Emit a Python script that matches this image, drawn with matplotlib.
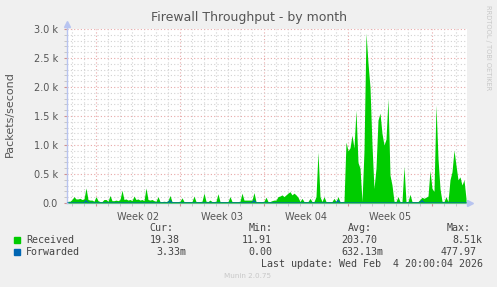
from datetime import datetime, timedelta

import matplotlib

matplotlib.use("Agg")
import matplotlib.dates as mdates
import matplotlib.pyplot as plt
import matplotlib.ticker as mticker
import numpy as np


TITLE = "Firewall Throughput - by month"
Y_LABEL = "Packets/second"
SIDE_TEXT = "RRDTOOL / TOBI OETIKER"
FOOTER = "Munin 2.0.75"
LAST_UPDATE = "Last update: Wed Feb  4 20:00:04 2026"

# 4-hour averages, starting Fri Jan 2 14:00
SERIES_START = datetime(2026, 1, 2, 14, 0)
STEP_HOURS = 4
RECEIVED = [
    30, 30, 60, 110, 70, 70, 80, 60, 70, 260,
    60, 50, 50, 30, 110, 40, 25, 25, 60, 60,
    30, 130, 40, 40, 50, 40, 60, 220, 60, 70,
    50, 60, 40, 120, 60, 70, 50, 60, 40, 260,
    60, 50, 60, 40, 30, 110, 25, 25, 30, 25,
    40, 130, 25, 25, 25, 25, 30, 90, 25, 25,
    25, 25, 25, 120, 25, 25, 25, 30, 170, 30,
    25, 50, 25, 25, 30, 160, 25, 25, 25, 25,
    25, 110, 25, 25, 25, 25, 30, 170, 50, 50,
    50, 50, 50, 180, 25, 25, 25, 25, 30, 100,
    25, 25, 40, 50, 50, 110, 120, 140, 110, 140,
    170, 195, 140, 170, 140, 100, 25, 80, 25, 25,
    25, 80, 25, 25, 110, 880, 110, 25, 110, 25,
    25, 25, 25, 80, 25, 110, 25, 25, 30, 1050,
    900, 950, 1170, 950, 1600, 700, 600, 30, 900, 2930,
    2410, 2000, 1000, 250, 600, 1430, 1550, 1200, 1000, 1100,
    1800, 480, 310, 30, 25, 110, 25, 25, 630, 25,
    25, 150, 25, 25, 25, 25, 60, 100, 80, 100,
    120, 560, 250, 200, 1690, 770, 250, 30, 25, 110,
    25, 400, 540, 910, 650, 400, 450, 310, 400, 80,
]
FORWARDED = [
    0, 0, 0, 0, 0, 0, 0, 0, 0, 40,
    0, 0, 0, 0, 0, 0, 0, 0, 0, 0,
    0, 0, 0, 0, 0, 0, 0, 0, 0, 0,
    0, 0, 0, 0, 0, 0, 0, 0, 0, 0,
    0, 0, 0, 0, 0, 0, 0, 0, 0, 0,
    0, 40, 0, 0, 0, 0, 0, 0, 0, 0,
    0, 0, 0, 0, 0, 0, 0, 0, 0, 0,
    0, 0, 0, 0, 0, 0, 0, 0, 0, 0,
    0, 0, 0, 0, 0, 0, 0, 0, 0, 0,
    0, 0, 0, 40, 0, 0, 0, 0, 0, 0,
    0, 0, 0, 0, 0, 0, 0, 0, 0, 0,
    0, 0, 0, 0, 0, 0, 0, 0, 0, 0,
    0, 0, 0, 0, 0, 0, 0, 0, 0, 0,
    0, 0, 0, 0, 0, 40, 0, 0, 0, 0,
    0, 0, 0, 0, 0, 0, 0, 0, 0, 0,
    0, 0, 0, 0, 0, 0, 0, 0, 0, 0,
    0, 0, 0, 0, 0, 0, 0, 0, 0, 0,
    0, 0, 0, 0, 0, 0, 0, 40, 0, 0,
    0, 0, 0, 0, 0, 0, 0, 0, 0, 0,
    0, 0, 0, 0, 0, 0, 0, 0, 0, 0,
]

X_START = datetime(2026, 1, 2, 14, 0)
X_END = datetime(2026, 2, 4, 22, 0)
WEEK_STARTS = [datetime(2026, 1, 5), datetime(2026, 1, 12), datetime(2026, 1, 19),
               datetime(2026, 1, 26), datetime(2026, 2, 2)]
WEEK_LABELS = ["Week 02", "Week 03", "Week 04", "Week 05"]

Y_TICKS = [0, 500, 1000, 1500, 2000, 2500, 3000]
Y_TICK_LABELS = ["0.0", "0.5 k", "1.0 k", "1.5 k", "2.0 k", "2.5 k", "3.0 k"]

LEGEND_NAMES = ["Received", "Forwarded"]
LEGEND_COLORS = ["#00CC00", "#0066B3"]
CUR_VALUES = ["19.38", "3.33m"]
MIN_VALUES = ["11.91", "0.00"]
AVG_VALUES = ["203.70", "632.13m"]
MAX_VALUES = ["8.51k", "477.97"]

BG = "#F0F0F0"
TEXT = "#555555"
MAJOR_GRID = "#E8A8A8"
MINOR_GRID = "#D2D2D2"
AXIS = "#B8C4F0"
MONO = "DejaVu Sans Mono"

W, H = 497, 287


def px_x(x):
    return x / W


def px_y(y):
    return 1 - y / H


times = [SERIES_START + timedelta(hours=STEP_HOURS * i + STEP_HOURS / 2) for i in range(len(RECEIVED))]
t = mdates.date2num(times)
received = np.array(RECEIVED, dtype=float)
forwarded = np.array(FORWARDED, dtype=float)

fig = plt.figure(figsize=(W / 100, H / 100), dpi=100, facecolor=BG)
ax = fig.add_axes([67 / W, 1 - 203 / H, 400 / W, 174 / H])
ax.set_facecolor("white")

ax.fill_between(t, 0, received, color=LEGEND_COLORS[0], linewidth=0, zorder=3)
ax.plot(t, forwarded, color=LEGEND_COLORS[1], linewidth=0.9, zorder=4)

ax.set_xlim(mdates.date2num(X_START), mdates.date2num(X_END))
ax.set_ylim(0, 3000)

ax.set_yticks(Y_TICKS)
ax.set_yticklabels(Y_TICK_LABELS)
ax.yaxis.set_minor_locator(mticker.MultipleLocator(100))
ax.set_xticks(mdates.date2num(WEEK_STARTS))
ax.set_xticklabels([])
ax.xaxis.set_minor_locator(mdates.DayLocator())

ax.grid(True, which="major", color=MAJOR_GRID, linestyle=(0, (1, 2)), linewidth=0.8, zorder=1)
ax.grid(True, which="minor", color=MINOR_GRID, linestyle=(0, (1, 2)), linewidth=0.8, zorder=1)
ax.set_axisbelow(True)

ax.tick_params(axis="both", which="major", length=2, width=0.8, color="#D09090",
               labelsize=7, labelcolor=TEXT, pad=4.5)
ax.tick_params(axis="both", which="minor", length=2, width=0.6, color="#C0C0C0")

for spine in ("top", "right"):
    ax.spines[spine].set_visible(False)
for spine in ("left", "bottom"):
    ax.spines[spine].set_color(AXIS)
    ax.spines[spine].set_linewidth(1)

# axis arrows
ax.plot([1.0, 1.0075], [0, 0], color=AXIS, lw=1, transform=ax.transAxes, clip_on=False)
ax.plot([1.0075], [0], marker=">", color=AXIS, markersize=4, transform=ax.transAxes, clip_on=False)
ax.plot([0, 0], [1.0, 1.029], color=AXIS, lw=1, transform=ax.transAxes, clip_on=False)
ax.plot([0], [1.029], marker="^", color=AXIS, markersize=4, transform=ax.transAxes, clip_on=False)

# week labels centred in the middle of each week
for start, label in zip(WEEK_STARTS, WEEK_LABELS):
    mid = mdates.date2num(start + timedelta(days=3.5))
    ax.text(mid, -0.05, label, transform=ax.get_xaxis_transform(),
            ha="center", va="top", fontsize=7, color=TEXT)

fig.text(px_x(249), px_y(18), TITLE, ha="center", va="center", fontsize=9, color=TEXT)
fig.text(px_x(10), px_y(114), Y_LABEL, rotation=90, ha="center", va="center",
         fontsize=8, color=TEXT)
fig.text(px_x(488), px_y(5), SIDE_TEXT, rotation=270, ha="center", va="top",
         fontsize=4.8, color="#C8C8C8")

# legend block
mono = dict(family=MONO, fontsize=7.2, color="#444444", va="center")
for x, head in zip([149.7, 248.7, 348, 446.7], ["Cur:", "Min:", "Avg:", "Max:"]):
    fig.text(px_x(x), px_y(228), head, ha="left", **mono)

rows = zip(LEGEND_NAMES, LEGEND_COLORS, CUR_VALUES, MIN_VALUES, AVG_VALUES, MAX_VALUES)
for k, (name, color, cur, vmin, avg, vmax) in enumerate(rows):
    y = px_y(240 + 12 * k)
    fig.patches.append(plt.Rectangle((px_x(14), y - 3 / H), 6 / W, 6 / H,
                                     transform=fig.transFigure, color=color))
    fig.text(px_x(26.3), y, name, ha="left", **mono)
    # values are right aligned like rrdtool's fixed-width columns
    for right, val in zip([186, 278, 383.5, 482.5], [cur, vmin, avg, vmax]):
        shift = 0 if val[-1].isalpha() else 6.0
        fig.text(px_x(right - shift), y, val, ha="right", **mono)

fig.text(px_x(483), px_y(264), LAST_UPDATE, ha="right", **mono)
fig.text(px_x(248), px_y(276), FOOTER, ha="center", va="center", fontsize=5.2, color="#C8C8C8")

fig.savefig("out.png", dpi=100, facecolor=BG)
plt.close(fig)
